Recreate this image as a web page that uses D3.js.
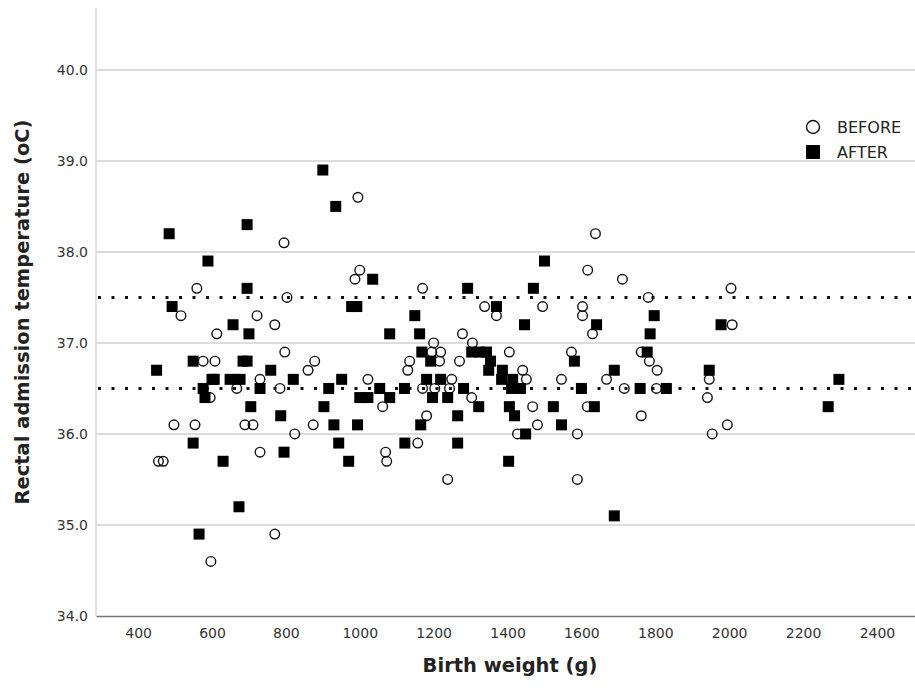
<!DOCTYPE html>
<html>
<head>
<meta charset="utf-8">
<script src="https://cdn.jsdelivr.net/npm/d3@7"></script>
<style>
  body { margin: 0; background: #fff; }
  text { font-family: "DejaVu Sans", sans-serif; }
</style>
</head>
<body>
<script>
// birth weight (g), rectal admission temperature (oC)
var beforePoints = [
  [455,35.7],[468,35.7],[497,36.1],[516,37.3],[554,36.1],[559,37.6],[576,36.8],[595,36.4],
  [597,34.6],[608,36.8],[613,37.1],[667,36.5],[689,36.1],[711,36.1],[722,37.3],[730,36.6],
  [730,35.8],[770,37.2],[770,34.9],[784,36.5],[795,38.1],[797,36.9],[803,37.5],[824,36.0],
  [860,36.7],[874,36.1],[878,36.8],[987,37.7],[995,38.6],[1000,37.8],[1022,36.6],[1062,36.3],
  [1070,35.8],[1073,35.7],[1130,36.7],[1135,36.8],[1157,35.9],[1170,37.6],[1170,36.5],[1181,36.2],
  [1195,36.9],[1200,37.0],[1203,36.5],[1216,36.8],[1219,36.9],[1238,35.5],[1243,36.5],[1249,36.6],
  [1270,36.8],[1278,37.1],[1303,36.4],[1305,37.0],[1338,37.4],[1370,37.3],[1405,36.9],[1427,36.0],
  [1441,36.7],[1451,36.6],[1468,36.3],[1481,36.1],[1495,37.4],[1546,36.6],[1573,36.9],[1589,36.0],
  [1589,35.5],[1603,37.4],[1603,37.3],[1616,36.3],[1617,37.8],[1630,37.1],[1638,38.2],[1668,36.6],
  [1711,37.7],[1716,36.5],[1762,36.9],[1762,36.2],[1781,37.5],[1784,36.8],[1803,36.5],[1805,36.7],
  [1941,36.4],[1946,36.6],[1954,36.0],[1995,36.1],[2005,37.6],[2008,37.2]
];
var afterPoints = [
  [450,36.7],[484,38.2],[492,37.4],[549,36.8],[549,35.9],[565,34.9],[589,37.9],[576,36.5],
  [581,36.4],[600,36.6],[606,36.6],[630,35.7],[657,37.2],[649,36.6],[676,36.6],[673,35.2],
  [684,36.8],[695,36.8],[695,38.3],[695,37.6],[700,37.1],[705,36.3],[730,36.5],[759,36.7],
  [786,36.2],[795,35.8],[820,36.6],[900,38.9],[903,36.3],[916,36.5],[935,38.5],[930,36.1],
  [943,35.9],[951,36.6],[970,35.7],[978,37.4],[992,37.4],[994,36.1],[1000,36.4],[1022,36.4],
  [1035,37.7],[1054,36.5],[1081,36.4],[1081,37.1],[1122,35.9],[1121,36.5],[1149,37.3],[1162,37.1],
  [1168,36.9],[1165,36.1],[1181,36.6],[1192,36.8],[1197,36.4],[1219,36.6],[1238,36.4],[1265,35.9],
  [1265,36.2],[1281,36.5],[1292,37.6],[1303,36.9],[1322,36.3],[1324,36.9],[1343,36.9],[1349,36.7],
  [1354,36.8],[1370,37.4],[1384,36.6],[1386,36.7],[1403,35.7],[1405,36.3],[1411,36.5],[1414,36.6],
  [1419,36.2],[1435,36.5],[1446,37.2],[1449,36.0],[1470,37.6],[1500,37.9],[1524,36.3],[1546,36.1],
  [1581,36.8],[1600,36.5],[1641,37.2],[1635,36.3],[1689,35.1],[1689,36.7],[1759,36.5],[1778,36.9],
  [1786,37.1],[1797,37.3],[1830,36.5],[1946,36.7],[1978,37.2],[2268,36.3],[2297,36.6]
];
var xTicks = [400, 600, 800, 1000, 1200, 1400, 1600, 1800, 2000, 2200, 2400];
var yTicks = [34, 35, 36, 37, 38, 39, 40];
var refLines = [37.5, 36.5];
var legendItems = ["BEFORE", "AFTER"];

var width = 915, height = 688;

var svg = d3.select("body")
    .append("svg")
    .attr("width", width)
    .attr("height", height);

var x = d3.scaleLinear().domain([286, 2503]).range([96, 915]);
var y = d3.scaleLinear().domain([34, 40.68]).range([616, 8]);

// grid lines
svg.selectAll(".grid")
    .data(yTicks.slice(1))
    .enter()
    .append("line")
    .attr("class", "grid")
    .attr("x1", x.range()[0])
    .attr("x2", x.range()[1])
    .attr("y1", d => y(d))
    .attr("y2", d => y(d))
    .attr("stroke", "#dcdcdc")
    .attr("stroke-width", 2)
;

// left frame line
svg.append("line")
    .attr("x1", 96).attr("x2", 96)
    .attr("y1", y.range()[1]).attr("y2", y.range()[0])
    .attr("stroke", "#d8d8d8")
    .attr("stroke-width", 1.5);

// y axis labels
var yAxis = d3.axisLeft(y)
    .tickValues(yTicks)
    .tickFormat(d3.format(".1f"))
    .tickSize(0)
    .tickPadding(8);
var gy = svg.append("g")
    .attr("transform", "translate(96,0)")
    .call(yAxis);
gy.select(".domain").remove();
gy.selectAll("text")
    .style("font-size", "14px")
    .attr("fill", "#333");

// x axis
var xAxis = d3.axisBottom(x)
    .tickValues(xTicks)
    .tickFormat(d3.format("d"))
    .tickSize(0)
    .tickPadding(12);
var gx = svg.append("g")
    .attr("transform", "translate(0,616)")
    .call(xAxis);
gx.select(".domain").attr("stroke", "#777").attr("stroke-width", 1.5);
gx.selectAll("text")
    .style("font-size", "14px")
    .attr("fill", "#333");

// dotted reference lines
svg.selectAll(".ref")
    .data(refLines)
    .enter()
    .append("line")
    .attr("class", "ref")
    .attr("x1", x.range()[0] + 2)
    .attr("x2", x.range()[1])
    .attr("y1", d => y(d))
    .attr("y2", d => y(d))
    .attr("stroke", "#111")
    .attr("stroke-width", 3)
    .attr("stroke-dasharray", "3 10.5")
;

// BEFORE: hollow circles
svg.selectAll(".before")
    .data(beforePoints)
    .enter()
    .append("circle")
    .attr("class", "before")
    .attr("cx", d => x(d[0]))
    .attr("cy", d => y(d[1]))
    .attr("r", 4.8)
    .attr("fill", "none")
    .attr("stroke", "#111")
    .attr("stroke-width", 1.4)
;

// AFTER: filled squares
var sq = 11;
svg.selectAll(".after")
    .data(afterPoints)
    .enter()
    .append("rect")
    .attr("class", "after")
    .attr("x", d => x(d[0]) - sq / 2)
    .attr("y", d => y(d[1]) - sq / 2)
    .attr("width", sq)
    .attr("height", sq)
    .attr("fill", "#000")
;

// legend
var legend = svg.append("g").attr("transform", "translate(813,127)");
legend.append("circle")
    .attr("cx", 0).attr("cy", 0).attr("r", 6.5)
    .attr("fill", "none").attr("stroke", "#111").attr("stroke-width", 1.4);
legend.append("rect")
    .attr("x", -7).attr("y", 18).attr("width", 14).attr("height", 14)
    .attr("fill", "#000");
legend.selectAll("text")
    .data(legendItems)
    .enter()
    .append("text")
    .attr("x", 24)
    .attr("y", (d, i) => i * 25 + 6)
    .style("font-size", "16px")
    .attr("fill", "#222")
    .text(d => d);

// axis titles
svg.append("text")
    .attr("x", 510)
    .attr("y", 672)
    .attr("text-anchor", "middle")
    .style("font-size", "19.5px")
    .style("font-weight", "bold")
    .attr("fill", "#222")
    .text("Birth weight (g)");

svg.append("text")
    .attr("transform", "translate(29,312) rotate(-90)")
    .attr("text-anchor", "middle")
    .style("font-size", "19.5px")
    .style("font-weight", "bold")
    .attr("fill", "#222")
    .text("Rectal admission temperature (oC)");
</script>
</body>
</html>
